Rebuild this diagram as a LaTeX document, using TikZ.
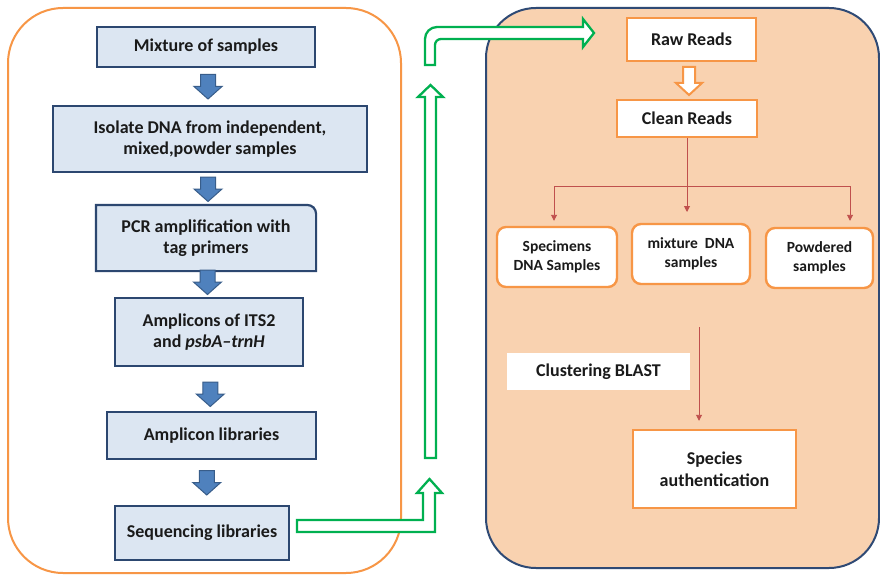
\documentclass[tikz,border=0pt]{standalone}
\usepackage{fontspec}
\setmainfont{Carlito}
\usetikzlibrary{calc,arrows.meta}
\definecolor{boxfill}{HTML}{DCE6F2}
\definecolor{boxline}{HTML}{2C4770}
\definecolor{arrowblue}{HTML}{4F81BD}
\definecolor{arrowblueline}{HTML}{385D8A}
\definecolor{orangeline}{HTML}{F79646}
\definecolor{peach}{HTML}{F9D2B0}
\definecolor{navy}{HTML}{2F4A75}
\definecolor{greenline}{HTML}{00B050}
\definecolor{redline}{HTML}{C0504D}
\definecolor{textdark}{HTML}{1A1A1A}
\tikzset{
  leftbox/.style={draw=boxline, fill=boxfill, line width=2.2pt, align=center,
    font=\fontsize{18}{21}\selectfont\bfseries, text=textdark, inner sep=0pt},
  rightbox/.style={draw=orangeline, fill=white, line width=2.4pt, align=center,
    font=\fontsize{18}{22}\selectfont\bfseries, text=textdark, inner sep=0pt},
  smallbox/.style={rightbox, rounded corners=9pt, font=\fontsize{15.5}{19}\selectfont\bfseries},
  plainbox/.style={fill=white, align=center, font=\fontsize{18}{21}\selectfont\bfseries, text=textdark, inner sep=0pt},
  greenarrow/.style={draw=greenline, fill=white, line width=2.3pt, line join=miter},
  orangearrow/.style={draw=orangeline, fill=white, line width=2pt, line join=miter},
  redconn/.style={draw=redline, line width=0.9pt},
  redarrow/.style={redconn, -{Triangle[length=6pt,width=6pt]}},
  pics/bluedown/.style={code={
    \draw[fill=arrowblue, draw=arrowblueline, line width=1pt, line join=miter]
      (-7.5,-12) -- (7.5,-12) -- (7.5,0) -- (14,0) -- (0,12.5) -- (-14,0) -- (-7.5,0) -- cycle;}}
}
\begin{document}
\begin{tikzpicture}[x=1pt,y=-1pt]
\useasboundingbox[fill=white] (0,0) rectangle (880,575);

% containers
\draw[draw=orangeline, line width=2pt, rounded corners=55pt] (8,8) rectangle (401,573);
\draw[draw=navy, fill=peach, line width=2pt, rounded corners=50pt] (486,8) rectangle (879,568);

% left column
\node[leftbox, minimum width=218pt, minimum height=40pt] (mix) at (206,47) {Mixture of samples};
\node[leftbox, minimum width=314pt, minimum height=66pt] (iso) at (210,139) {Isolate DNA from independent,\\mixed,powder samples};
\node[leftbox, draw=none, minimum width=218pt, minimum height=64pt] (pcr) at (206,238) {PCR amplification with\\tag primers};
\draw[draw=boxline, line width=2.2pt, line join=miter]
  (pcr.south west) -- (pcr.north west) -- ([xshift=-9pt]pcr.north east)
  arc[start angle=90, end angle=0, radius=9pt] -- (pcr.south east) -- cycle;
\node[leftbox, minimum width=188pt, minimum height=68pt] (amp) at (209,332) {Amplicons of ITS2\\and \textit{psbA--trnH}};
\node[leftbox, minimum width=209pt, minimum height=47pt] (alib) at (211.5,435.5) {Amplicon libraries};
\node[leftbox, minimum width=174pt, minimum height=54pt] (seq) at (202,533) {Sequencing libraries};

\pic at ($(mix.south)!0.5!(iso.north)$) {bluedown};
\pic at ($(iso.south)!0.5!(pcr.north)$) {bluedown};
\pic at ($(pcr.south)!0.5!(amp.north)+(0,-2)$) {bluedown};
\pic at ($(amp.south)!0.5!(alib.north)+(0,5)$) {bluedown};
\pic at ($(alib.south)!0.5!(seq.north)$) {bluedown};

% green block arrows
\draw[greenarrow] (297,520) -- (423,520) -- (423,493) -- (417,493) -- (429.5,479) -- (442,493) -- (435,493) -- (435,532) -- (297,532) -- cycle;
\draw[greenarrow] (425,458) -- (425,97) -- (418,97) -- (430.5,85) -- (443,97) -- (436,97) -- (436,458) -- cycle;
\draw[greenarrow] (425,65) -- (425,39) arc[start angle=180, end angle=90, radius=12pt]
  -- (583,27) -- (583,19) -- (594,33) -- (583,47) -- (583,39) -- (441,39)
  arc[start angle=90, end angle=180, radius=6pt] -- (435,65) -- cycle;

% right column
\node[rightbox, minimum width=129pt, minimum height=43pt] (raw) at (691.5,39.5) {Raw Reads};
\node[rightbox, minimum width=140pt, minimum height=37pt] (clean) at (687,118.5) {Clean Reads};
\draw[orangearrow] (683,67) -- (695,67) -- (695,83) -- (702,83) -- (689,95) -- (676,83) -- (683,83) -- cycle;

\node[smallbox, minimum width=120pt, minimum height=60pt] (spec) at (557,257) {Specimens\\DNA Samples};
\node[smallbox, minimum width=118pt, minimum height=60pt] (mixd) at (691,254) {mixture~ DNA\\samples};
\node[smallbox, minimum width=107pt, minimum height=60pt] (pow) at (819.5,258) {Powdered\\samples};

\coordinate (hl) at (554,186);
\coordinate (hr) at (850,186);
\draw[redconn] (hl) -- (hr);
\draw[redarrow] (clean.south) -- (687,212);
\draw[redarrow, shorten >=5pt] (hl) -- (hl |- spec.north);
\draw[redarrow, shorten >=6pt] (hr) -- (hr |- pow.north);

\node[plainbox, minimum width=183pt, minimum height=37pt] (blast) at (598.5,371.5) {Clustering BLAST};
\node[rightbox, minimum width=163pt, minimum height=78pt] (species) at (714.5,469) {Species\\authentication};
\coordinate (cb) at (699,327);
\draw[redarrow, shorten >=8pt] (cb) -- (cb |- species.north);
\end{tikzpicture}
\end{document}
